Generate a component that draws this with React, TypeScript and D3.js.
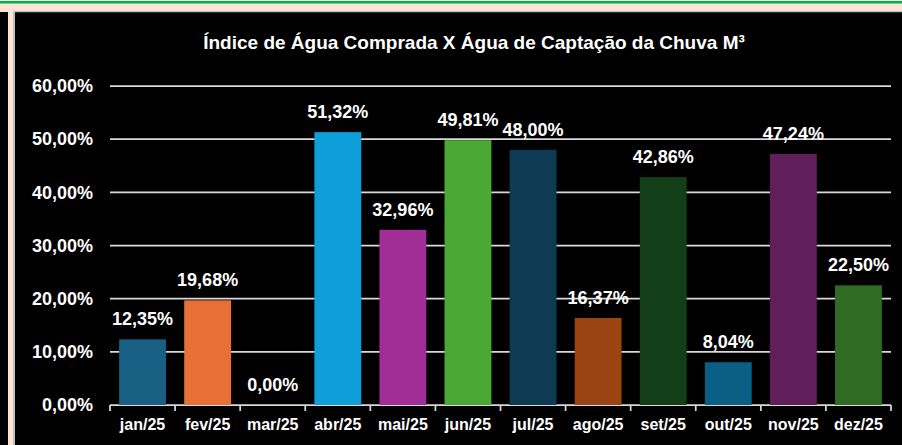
import React, { useRef, useEffect } from "react";
import * as d3 from "d3";

const months = ["jan/25", "fev/25", "mar/25", "abr/25", "mai/25", "jun/25", "jul/25", "ago/25", "set/25", "out/25", "nov/25", "dez/25"];
const values = [12.35, 19.68, 0, 51.32, 32.96, 49.81, 48.0, 16.37, 42.86, 8.04, 47.24, 22.5];
const barColors = ["#175f83", "#e87037", "#7f7f7f", "#0e9fd9", "#a02e96", "#4aa934", "#0d3b53", "#9a4313", "#133f18", "#0a5f85", "#601f5b", "#2f6b22"];
const yTicks = [0, 10, 20, 30, 40, 50, 60];
const title = "Índice de Água Comprada X Água de Captação da Chuva M³";

const W = 902;
const H = 445;

const fmt = (v: number) => v.toFixed(2).replace(".", ",") + "%";

const App = () => {
  const svgRef = useRef<SVGSVGElement>(null);

  useEffect(() => {
    document.body.style.margin = "0";
    const svg = d3.select(svgRef.current);
    svg.selectAll("*").remove();

    // frame
    svg.append("rect").attr("x", 0).attr("y", 0).attr("width", W).attr("height", H).attr("fill", "#000");
    svg.append("rect").attr("x", 0).attr("y", 0).attr("width", W).attr("height", 12).attr("fill", "#fce3d6");
    svg.append("rect").attr("x", 0).attr("y", 1).attr("width", W).attr("height", 2.5).attr("fill", "#00b050");
    svg.append("rect").attr("x", 8).attr("y", 9).attr("width", 6).attr("height", H).attr("fill", "#fce3d6");
    svg.append("rect").attr("x", 13).attr("y", 11).attr("width", 2).attr("height", H).attr("fill", "#bfbfbf");
    svg.append("rect").attr("x", 13).attr("y", 11).attr("width", W).attr("height", 1.5).attr("fill", "#bfbfbf");
    svg.append("rect").attr("x", 15).attr("y", 12.5).attr("width", W).attr("height", H).attr("fill", "#000");

    const x = d3.scaleBand().domain(months).range([110, 891]).paddingInner(0.28).paddingOuter(0.14);
    const y = d3.scaleLinear().domain([0, 60]).range([405, 86]);

    svg.append("text")
      .attr("x", 474).attr("y", 49)
      .attr("text-anchor", "middle")
      .attr("fill", "#fff")
      .attr("font-family", "Liberation Sans, Arial, sans-serif")
      .attr("font-weight", "bold")
      .attr("font-size", 19)
      .text(title);

    // grid
    const grid = svg.append("g");
    grid.selectAll("line").data(yTicks).join("line")
      .attr("x1", 110).attr("x2", 891)
      .attr("y1", d => y(d)).attr("y2", d => y(d))
      .attr("stroke", "#d9d9d9").attr("stroke-width", 1.75);

    const yAxis = d3.axisLeft(y).tickValues(yTicks).tickSize(0).tickPadding(17).tickFormat(d => fmt(+d));
    const yg = svg.append("g").attr("transform", "translate(110,0)").call(yAxis);
    yg.select(".domain").remove();
    yg.selectAll("text")
      .attr("fill", "#fff").attr("font-size", 18).attr("font-weight", "bold")
      .attr("font-family", "Liberation Sans, Arial, sans-serif");

    // x ticks at band boundaries
    const step = x.step();
    const bounds = d3.range(months.length + 1).map(i => 110 + i * step);
    svg.append("g").selectAll("line").data(bounds).join("line")
      .attr("x1", d => d).attr("x2", d => d).attr("y1", 405).attr("y2", 411)
      .attr("stroke", "#d9d9d9").attr("stroke-width", 1.75);

    svg.append("g").selectAll("text").data(months).join("text")
      .attr("x", d => x(d)! + x.bandwidth() / 2)
      .attr("y", 430)
      .attr("text-anchor", "middle")
      .attr("fill", "#fff").attr("font-size", 16).attr("font-weight", "bold")
      .attr("font-family", "Liberation Sans, Arial, sans-serif")
      .text(d => d);

    // bars
    svg.append("g").selectAll("rect").data(values).join("rect")
      .attr("x", (_, i) => x(months[i])!)
      .attr("y", d => y(d))
      .attr("width", x.bandwidth())
      .attr("height", d => y(0) - y(d))
      .attr("fill", (_, i) => barColors[i]);

    svg.append("g").selectAll("text").data(values).join("text")
      .attr("x", (_, i) => x(months[i])! + x.bandwidth() / 2)
      .attr("y", d => y(d) - 14)
      .attr("text-anchor", "middle")
      .attr("fill", "#fff").attr("font-size", 18).attr("font-weight", "bold")
      .attr("font-family", "Liberation Sans, Arial, sans-serif")
      .text(d => fmt(d));
  }, []);

  return (
    <div style={{ position: "absolute", left: 0, top: 0 }}>
      <svg ref={svgRef} width={W} height={H} style={{ display: "block" }}></svg>
    </div>
  );
};

export default App;
